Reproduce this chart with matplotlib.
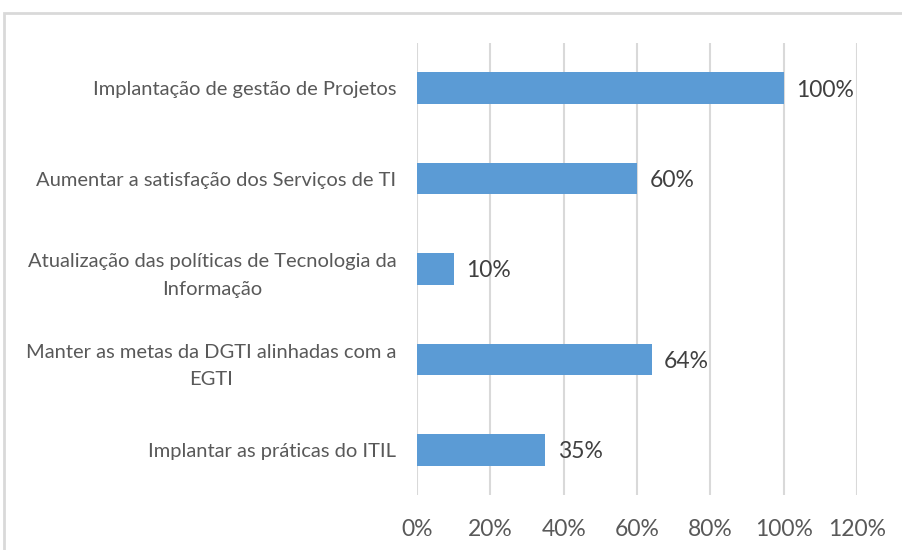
import matplotlib.pyplot as plt
from matplotlib.patches import Rectangle
from matplotlib.ticker import FuncFormatter

categorias = [
    'Implantação de gestão de Projetos',
    'Aumentar a satisfação dos Serviços de TI',
    'Atualização das políticas de Tecnologia da\nInformação',
    'Manter as metas da DGTI alinhadas com a\nEGTI',
    'Implantar as práticas do ITIL',
]
valores = [100, 60, 10, 64, 35]
ticks = [0, 20, 40, 60, 80, 100, 120]

plt.rcParams['font.family'] = ['Lato', 'DejaVu Sans']

fig = plt.figure(figsize=(9.02, 5.5), dpi=100)
ax = fig.add_axes([417 / 902, 1 - 495 / 550, 440 / 902, 452 / 550])

pos = list(range(len(categorias)))
ax.barh(pos, valores, height=0.35, color='#5B9BD5', zorder=3)
ax.set_ylim(len(categorias) - 0.5, -0.5)
ax.set_xlim(0, 120)
ax.set_xticks(ticks)
ax.xaxis.set_major_formatter(FuncFormatter(lambda v, p: f'{v:.0f}%'))
ax.set_yticks(pos)
ax.set_yticklabels(categorias, ha='right', multialignment='center', linespacing=1.75)
ax.tick_params(axis='y', length=0, pad=15, labelsize=14.5, labelcolor='#595959')
ax.tick_params(axis='x', length=0, pad=17, labelsize=16.5, labelcolor='#595959')
ax.grid(axis='x', color='#d9d9d9', lw=1.5, zorder=0)
for s in ax.spines.values():
    s.set_visible(False)

for i, v in enumerate(valores):
    ax.text(v + 3.4, i + 0.02, f'{v}%', va='center', ha='left', fontsize=16.5, color='#404040')

fig.patches.append(Rectangle((4 / 902, -0.2), 1.2, 1.2 - 13 / 550, transform=fig.transFigure,
                             fill=False, edgecolor='#d9d9d9', lw=2))

fig.savefig('out.png', dpi=100)
